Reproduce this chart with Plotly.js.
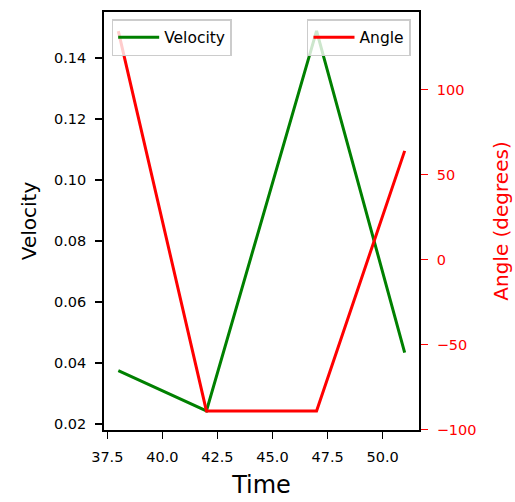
<!DOCTYPE html>
<html>
<head>
<meta charset="utf-8">
<script src="https://cdn.plot.ly/plotly-3.0.1.min.js"></script>
<style>html,body{margin:0;padding:0;background:#fff;}#chart{width:515px;height:502px;}</style>
</head>
<body>
<div id="chart"></div>
<script>
var time = [38, 42, 47, 51];
var velocity = [0.0375, 0.0243, 0.1489, 0.0434];
var angle = [134.5, -89, -89, 64];

var FONT = "DejaVu Sans";
var traces = [
  {x: time, y: velocity, type: 'scatter', mode: 'lines', name: 'Velocity',
   line: {color: 'green', width: 3}, yaxis: 'y', legend: 'legend'},
  {x: time, y: angle, type: 'scatter', mode: 'lines', name: 'Angle',
   line: {color: 'red', width: 3}, yaxis: 'y2', legend: 'legend2'}
];

var layout = {
  width: 515, height: 502,
  margin: {l: 104, r: 96, t: 12, b: 72},
  paper_bgcolor: '#fff', plot_bgcolor: '#fff',
  font: {family: FONT, size: 15, color: '#000'},
  showlegend: true,
  xaxis: {
    range: [37.35, 51.65], tick0: 37.5, dtick: 2.5, tickformat: '.1f',
    showgrid: false, zeroline: false, showline: true, mirror: true,
    linecolor: '#000', linewidth: 1.8, ticks: 'outside', ticklen: 7, tickwidth: 1.5,
    tickcolor: '#000', tickfont: {size: 14.5, family: FONT}, ticklabelstandoff: 6,
    title: {text: 'Time', font: {size: 24, family: FONT}, standoff: 12}
  },
  yaxis: {
    range: [0.01803, 0.1551], tick0: 0.02, dtick: 0.02, tickformat: '.2f',
    showgrid: false, zeroline: false, showline: true, linecolor: '#000', linewidth: 1.8,
    ticks: 'outside', ticklen: 7, tickwidth: 1.5, tickcolor: '#000',
    tickfont: {size: 14.5, family: FONT}, ticklabelstandoff: 6,
    title: {text: 'Velocity', font: {size: 20, family: FONT}, standoff: 12}
  },
  yaxis2: {
    overlaying: 'y', side: 'right',
    range: [-100.2, 145.7], tick0: 0, dtick: 50,
    showgrid: false, zeroline: false, showline: true, linecolor: '#000', linewidth: 1.8,
    ticks: 'outside', ticklen: 7, tickwidth: 1.5, tickcolor: 'red',
    tickfont: {size: 14.5, family: FONT, color: 'red'}, ticklabelstandoff: 6,
    title: {text: 'Angle (degrees)', font: {size: 20, family: FONT, color: 'red'}, standoff: 18}
  },
  legend: {
    x: 0.0244, y: 0.983, xanchor: 'left', yanchor: 'top', itemwidth: 41,
    bgcolor: 'rgba(255,255,255,0.8)', bordercolor: '#cccccc', borderwidth: 1.5,
    font: {size: 15.5, family: FONT}
  },
  legend2: {
    x: 0.9746, y: 0.983, xanchor: 'right', yanchor: 'top', itemwidth: 41,
    bgcolor: 'rgba(255,255,255,0.8)', bordercolor: '#cccccc', borderwidth: 1.5,
    font: {size: 15.5, family: FONT}
  }
};

Plotly.newPlot('chart', traces, layout, {displayModeBar: false, staticPlot: true});
</script>
</body>
</html>
